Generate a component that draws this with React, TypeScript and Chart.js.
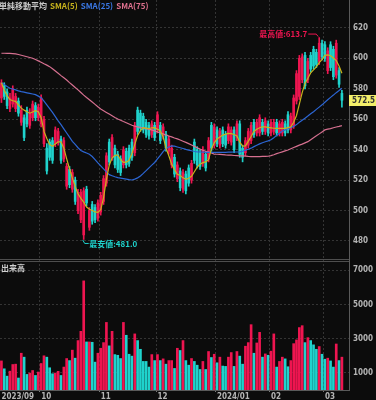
import React, { useEffect, useRef } from 'react';
import { Chart, registerables } from 'chart.js';

Chart.register(...registerables);

const dates = [
  '2023/09/11','2023/09/12','2023/09/13','2023/09/14','2023/09/15','2023/09/19','2023/09/20','2023/09/21','2023/09/22','2023/09/25','2023/09/26','2023/09/27','2023/09/28','2023/09/29',
  '2023/10/02','2023/10/03','2023/10/04','2023/10/05','2023/10/06','2023/10/10','2023/10/11','2023/10/12','2023/10/13','2023/10/16','2023/10/17','2023/10/18','2023/10/19','2023/10/20','2023/10/23','2023/10/24','2023/10/25','2023/10/26','2023/10/27','2023/10/30','2023/10/31',
  '2023/11/01','2023/11/02','2023/11/06','2023/11/07','2023/11/08','2023/11/09','2023/11/10','2023/11/13','2023/11/14','2023/11/15','2023/11/16','2023/11/17','2023/11/20','2023/11/21','2023/11/22','2023/11/24','2023/11/27','2023/11/28','2023/11/29','2023/11/30',
  '2023/12/01','2023/12/04','2023/12/05','2023/12/06','2023/12/07','2023/12/08','2023/12/11','2023/12/12','2023/12/13','2023/12/14','2023/12/15','2023/12/18','2023/12/19','2023/12/20','2023/12/21','2023/12/22','2023/12/25','2023/12/26','2023/12/27','2023/12/28','2023/12/29',
  '2024/01/04','2024/01/05','2024/01/09','2024/01/10','2024/01/11','2024/01/12','2024/01/15','2024/01/16','2024/01/17','2024/01/18','2024/01/19','2024/01/22','2024/01/23','2024/01/24','2024/01/25','2024/01/26','2024/01/29','2024/01/30','2024/01/31',
  '2024/02/01','2024/02/02','2024/02/05','2024/02/06','2024/02/07','2024/02/08','2024/02/09','2024/02/13','2024/02/14','2024/02/15','2024/02/16','2024/02/19','2024/02/20','2024/02/21','2024/02/22','2024/02/26','2024/02/27','2024/02/28','2024/02/29',
  '2024/03/01','2024/03/04','2024/03/05','2024/03/06','2024/03/07','2024/03/08','2024/03/11',
];

const monthTickLabels = ['2023/09', '10', '11', '12', '2024/01', '02', '03'];

const opens = [
  574,582,578,567,570,567,572,558,561,566, 556,561,569,561,557,544,541,545,546,544,
  545,547,534,516,527,514,520,500,494,484, 514,489,504,502,495,499,506,518,545,535,
  541,537,534,530,539,541,545,538,566,564, 562,558,556,550,556,553,556,549,550,539,
  530,535,521,526,514,524,528,520,545,540, 538,531,537,534,556,543,553,543,553,550,
  546,545,553,548,557,541,538,543,546,558, 551,551,558,552,557,551,552,558,551,551,
  557,563,553,556,572,575,586,602,586,602, 606,604,598,610,609,592,609,606,589,592,
  577,
];
const highs = [
  586,584,580,577,582,577,574,569,563,568, 567,572,571,570,576,562,544,547,548,555,
  554,549,548,531,529,527,522,514,514,515, 516,502,506,504,507,512,523,538,547,550,
  543,539,536,542,541,543,547,558,568,566, 564,560,558,559,558,565,558,557,552,549,
  543,537,532,528,527,526,530,533,547,542, 540,542,539,548,558,557,555,554,555,552,
  557,555,555,559,559,543,548,554,558,560, 560,563,560,561,559,560,560,560,559,560,
  559,565,564,576,592,602,603,604,600,604, 608,606,613.7,612,611,607,611,608,612,594,
  579,
];
const lows = [
  571,573,567,565,568,565,562,556,546,555, 554,559,559,559,555,542,524,533,531,542,
  543,531,532,514,515,512,504,498,492,481, 503,487,491,492,493,497,504,516,530,533,
  528,525,523,528,528,529,533,536,550,552, 551,548,547,548,546,551,544,547,539,537,
  528,522,519,513,512,511,516,518,531,528, 527,529,526,532,539,541,542,541,542,541,
  544,543,538,546,535,532,536,541,544,548, 549,549,550,550,549,549,550,549,549,549,
  549,551,551,554,570,573,584,580,584,591, 593,594,596,599,598,590,592,586,587,581,
  568,
];
const closes = [
  584,575,569,574,580,575,564,566,548,557, 564,570,561,568,574,560,526,535,533,553,
  552,533,546,529,517,525,506,512,512,513, 505,500,493,494,505,510,521,536,532,548,
  530,527,525,540,530,531,535,556,552,554, 553,550,549,557,548,563,546,555,541,547,
  541,524,530,515,525,513,518,531,533,530, 529,540,528,546,541,555,544,552,544,543,
  555,553,540,557,537,535,546,552,556,550, 558,561,552,559,551,558,558,551,557,558,
  551,553,562,574,590,600,601,582,598,593, 595,596,610,601,600,605,594,588,610,583,
  572.5,
];

const volumes = [
  1700,1240,810,1100,1490,1510,700,2150,1920,910, 990,1140,850,1050,1550,2000,1920,1300,950,990,
  1090,850,1340,1840,1720,2330,1860,2890,3430,6380, 2810,2810,2790,1630,2150,2440,2770,3950,2580,3430,
  2070,2030,1840,3950,3200,2090,1980,3280,2890,2380, 1670,1670,1340,2070,1720,2070,1720,1820,1510,1720,
  1720,1260,2440,2310,2890,1720,1450,1840,1670,1450, 1200,1670,1200,2250,1900,2090,1590,1920,1400,1380,
  1920,2190,1380,2250,1980,1510,2560,2770,3820,2150, 2750,3370,1920,2110,2030,2270,3280,1340,1670,1920,
  1820,1360,1720,2710,2930,3650,3760,2770,3060,2890, 2640,2380,2540,2090,1800,1860,1700,1340,2690,1720,
  1920,
];
// R = red bar, C = cyan bar
const volumeColorKeys = (
  'RCCRRRCRCC' + 'RRCRRRCCCR' + 'RCRRCRCRRR' + 'CRCCRRRRCR' + 'CCCRCCCRCC' + 'CCCRCRCRCR' +
  'RCRCRCCRCC' + 'CRCRCRCRCC' + 'RRCRCCRRRC' + 'RRCRCRRCRR' + 'CCRRRRRCRC' + 'CCRCCRCCRC' + 'R'
).split('');

const sma5 = [
  584,579,575.5,573,572.2,571.8,569.5,567.3,566,565, 564,564.8,565.7,565,561,552,547.3,543.4,542.3,543.8,
  545.2,545.2,541,534,527.5,521.5,515.8,511,508,505.5, 502.3,500.8,500,499.1,498.8,500.5,508.5,520.5,529.8,534.5,
  536.3,536.5,533.5,531.7,531.8,533,537.5,543.5,549.3,552.5, 554.5,554.2,553.8,554.4,554.5,553.5,552.3,548.5,541,536,
  530.5,527,523.8,523,521.5,520.5,521.2,522.5,525.5,528.5, 530.5,531.5,532,533.5,540.5,544.5,547,548.3,549.6,550.2,
  550.7,550.6,550,549,545,542.4,542.5,545.5,548.7,552, 553.5,554.4,555,555,554.7,554.4,554.1,554,554,554,
  554,554.5,555,558,562.5,570,577.5,583.5,587,590.5, 592.5,594.4,597.2,599.2,602,602.3,601.8,600.3,598.6,595,
  590.3,
];
const sma25 = [
  584,582.8,581.6,580.4,579.9,579.3,578.7,578.2,577.8,577.4, 577,576.6,576.2,575.2,574.2,572,569.5,567,564.5,561.7,
  559,556.5,553.7,551,548.3,545.5,543.5,541.3,539.5,538.6, 537.8,537,535.5,533.5,531.4,529.4,527.4,525.4,523.6,522.9,
  522.2,521.6,521.3,521,520.7,520.3,520.1,520.7,521.5,522.7, 524.4,526.2,528.1,529.9,531.6,534,536.3,538.8,540.7,541.8,
  542.5,542.3,541.8,541.3,540.8,540.2,539.7,539.3,538.8,538.6, 538.5,538.4,538.3,538.3,538.3,538.3,538.3,538.3,538.3,538.3,
  538.4,538.4,538.5,538.5,538.6,539,539.7,540.3,541,542, 542.9,543.8,544.6,545.2,545.8,546.5,547.9,549.4,550.8,552.3,
  553,553.8,554.5,555.3,556.5,558,559.3,560.7,562.1,563.6, 565,566.5,568,569.5,571.2,572.8,574.4,575.9,577.5,578.9,
  580.4,
];
const sma75 = [
  603.4,603.4,603.3,603.3,603.2,603,602.6,602.1,601.6,601.1, 600.6,600.1,599.3,598.4,597.5,596.5,595.6,594.6,593.2,591.7,
  590.2,588.7,587.3,585.8,584.1,582.5,580.9,579.3,577.6,575.9, 574.3,572.8,571.3,569.8,568.2,566.7,565.6,564.5,563.4,562.3,
  561.2,560.2,559.4,558.5,557.7,556.9,556.1,555.4,555,554.6, 554.2,553.8,553.4,553,552.4,551.7,551,550.4,549.7,549,
  548.4,547.7,547.1,546.4,545.6,544.8,544,543.1,542.2,541.3, 540.4,539.6,539,538.4,537.8,537.1,537,536.9,536.8,536.6,
  536.5,536.4,536.2,536.1,536,535.9,535.8,535.6,535.5,535.4, 535.4,535.5,535.6,535.6,535.7,536.1,536.7,537.4,538,538.6,
  539.2,539.8,540.6,541.4,542.2,543,543.7,544.5,545.3,546.6, 547.9,549.1,550.4,551.7,553,553.5,553.9,554.4,554.9,555.3,
  555.8,
];

const priceTicks = [480, 500, 520, 540, 560, 580, 600, 620];
const volumeTicks = [1000, 2000, 3000, 4000, 5000, 6000, 7000];
const headerTitle = '単純移動平均';
const legendLabels = ['SMA(5)', 'SMA(25)', 'SMA(75)'];
const volumeTitle = '出来高';
const highLabel = '最高値:';
const lowLabel = '最安値:';

const BG = '#0c0c0c';
const RED = '#ee1550';
const CYAN = '#1fd3cd';
const C_SMA5 = '#c8b41c';
const C_SMA25 = '#2c66d4';
const C_SMA75 = '#d67090';
const GRID = '#343434';
const AXIS = '#5a5a5a';
const TICK_TEXT = '#b4b4b4';
const NARROW = "'Liberation Sans Narrow', 'DejaVu Sans Condensed', 'Roboto', sans-serif";
const CJK = "'Noto Sans CJK JP', 'Noto Sans', sans-serif";

const padLabels = [' ', '  '];
const xLabels = [...dates, ...padLabels];
const monthStarts = dates
  .map((d, i) => (i === 0 || d.slice(0, 7) !== dates[i - 1].slice(0, 7) ? i : -1))
  .filter((i) => i >= 0);

const candleColors = closes.map((c, i) => (c >= opens[i] ? RED : CYAN));
const volColors = volumeColorKeys.map((k) => (k === 'R' ? RED : CYAN));

const tickFont = { family: NARROW, size: 8, weight: 'bold' as const };

const overlay = {
  id: 'overlay',
  beforeDraw(chart: any) {
    const { ctx, width, height } = chart;
    ctx.save();
    ctx.fillStyle = BG;
    ctx.fillRect(0, 0, width, height);
    ctx.restore();
  },
  afterDraw(chart: any) {
    const { ctx, chartArea: area, scales } = chart;
    const xs = scales.x;
    const ys = scales.y;
    const yv = scales.yv;
    ctx.save();

    // pane separator (double line)
    const sy = Math.round(yv.top);
    ctx.strokeStyle = '#4e4e4e';
    ctx.lineWidth = 1;
    ctx.beginPath();
    ctx.moveTo(area.left, sy - 0.5);
    ctx.lineTo(area.right, sy - 0.5);
    ctx.moveTo(area.left, sy + 1.5);
    ctx.lineTo(area.right, sy + 1.5);
    ctx.stroke();

    // header
    ctx.font = `bold 8px ${CJK}`;
    ctx.textBaseline = 'middle';
    ctx.textAlign = 'left';
    let hx = -1;
    const hy = 5.5;
    const items: [string, string][] = [
      [headerTitle, '#c8c8c8'],
      [legendLabels[0], C_SMA5],
      [legendLabels[1], '#3a78e6'],
      [legendLabels[2], '#e0718f'],
    ];
    for (const [t, col] of items) {
      ctx.fillStyle = col;
      ctx.fillText(t, hx, hy);
      hx += ctx.measureText(t).width + 3;
    }

    // volume title
    ctx.fillStyle = '#d0d0d0';
    ctx.fillText(volumeTitle, 1, yv.top + 7.5);

    // highest
    let hi = 0;
    highs.forEach((v, i) => { if (v > highs[hi]) hi = i; });
    const px = xs.getPixelForValue(hi);
    const py = ys.getPixelForValue(highs[hi]);
    ctx.strokeStyle = RED;
    ctx.fillStyle = RED;
    ctx.beginPath();
    ctx.moveTo(px - 11, py - 3.5);
    ctx.lineTo(px - 3, py - 3.5);
    ctx.lineTo(px - 1, py - 1);
    ctx.stroke();
    ctx.textAlign = 'right';
    ctx.fillText(highLabel + highs[hi].toFixed(1), px - 12, py - 3.5);

    // lowest
    let lo = 0;
    lows.forEach((v, i) => { if (v < lows[lo]) lo = i; });
    const lx = xs.getPixelForValue(lo);
    const ly = ys.getPixelForValue(lows[lo]);
    ctx.strokeStyle = CYAN;
    ctx.fillStyle = CYAN;
    ctx.beginPath();
    ctx.moveTo(lx - 1, ly + 0.5);
    ctx.lineTo(lx + 1, ly + 4);
    ctx.lineTo(lx + 5, ly + 4);
    ctx.stroke();
    ctx.textAlign = 'left';
    ctx.fillText(lowLabel + lows[lo].toFixed(1), lx + 5.5, ly + 4);

    // last price box
    const last = closes[closes.length - 1];
    const ly2 = ys.getPixelForValue(last);
    ctx.fillStyle = '#f3ef6a';
    ctx.fillRect(area.right, Math.round(ly2) - 5, chart.width - area.right, 11);
    ctx.fillStyle = '#333333';
    ctx.font = `bold 8px ${NARROW}`;
    ctx.textAlign = 'center';
    ctx.fillText(last.toFixed(1), (area.right + chart.width) / 2 + 1, Math.round(ly2) + 0.5);

    ctx.restore();
  },
};

export default function App() {
  const ref = useRef<HTMLCanvasElement | null>(null);

  useEffect(() => {
    const canvas = ref.current;
    if (!canvas) return;
    const chart = new Chart(canvas, {
      type: 'bar',
      data: {
        labels: xLabels,
        datasets: [
          {
            type: 'line',
            data: sma5,
            borderColor: C_SMA5,
            borderWidth: 1.2,
            pointRadius: 0,
            yAxisID: 'y',
            order: 0,
          } as any,
          {
            type: 'line',
            data: sma25,
            borderColor: C_SMA25,
            borderWidth: 1.2,
            pointRadius: 0,
            yAxisID: 'y',
            order: 0,
          } as any,
          {
            type: 'line',
            data: sma75,
            borderColor: C_SMA75,
            borderWidth: 1.2,
            pointRadius: 0,
            yAxisID: 'y',
            order: 0,
          } as any,
          {
            type: 'bar',
            data: lows.map((l, i) => [l, highs[i]]),
            backgroundColor: candleColors,
            barThickness: 1,
            grouped: false,
            yAxisID: 'y',
            order: 3,
          } as any,
          {
            type: 'bar',
            data: opens.map((o, i) => [o, closes[i]]),
            backgroundColor: candleColors,
            barThickness: 2,
            minBarLength: 1,
            grouped: false,
            yAxisID: 'y',
            order: 2,
          } as any,
          {
            type: 'bar',
            data: volumes,
            backgroundColor: volColors,
            barThickness: 2,
            grouped: false,
            yAxisID: 'yv',
            order: 4,
          } as any,
        ],
      },
      options: {
        responsive: false,
        animation: false,
        devicePixelRatio: 1,
        events: [],
        layout: { padding: 0 },
        plugins: { legend: { display: false }, tooltip: { enabled: false } },
        scales: {
          x: {
            type: 'category',
            offset: true,
            grid: {
              offset: true,
              color: (c: any) => (c.index > 0 && monthStarts.includes(c.index) ? GRID : 'rgba(0,0,0,0)'),
              drawTicks: true,
              tickLength: 2,
              tickColor: (c: any) => (c.index > 0 && monthStarts.includes(c.index) ? '#777' : 'rgba(0,0,0,0)'),
            },
            border: { display: true, color: AXIS, dash: [2, 2] },
            ticks: {
              autoSkip: false,
              maxRotation: 0,
              minRotation: 0,
              align: 'start',
              padding: 0,
              color: TICK_TEXT,
              font: tickFont,
              callback: (_v: any, i: number) => {
                const m = monthStarts.indexOf(i);
                return m >= 0 ? monthTickLabels[m] : '';
              },
            },
            afterFit: (s: any) => {
              s.height = 10;
              s.paddingLeft = 0;
              s.paddingRight = 0;
            },
          },
          y: {
            type: 'linear',
            position: 'right',
            stack: 'panes',
            stackWeight: 2,
            min: 467.5,
            max: 638.4,
            afterBuildTicks: (s: any) => {
              s.ticks = priceTicks.map((v) => ({ value: v }));
            },
            grid: { color: GRID, drawTicks: false },
            border: { display: true, color: AXIS, dash: [2, 2] },
            ticks: { padding: 4, color: TICK_TEXT, font: tickFont, callback: (v: any) => String(v) },
            afterFit: (s: any) => {
              s.width = 27;
              s.paddingTop = 0;
              s.paddingBottom = 0;
            },
          },
          yv: {
            type: 'linear',
            position: 'right',
            stack: 'panes',
            stackWeight: 1,
            min: 0,
            max: 7600,
            afterBuildTicks: (s: any) => {
              s.ticks = volumeTicks.map((v) => ({ value: v }));
            },
            grid: { color: GRID, drawTicks: false },
            border: { display: true, color: AXIS, dash: [2, 2] },
            ticks: { padding: 4, color: TICK_TEXT, font: tickFont, callback: (v: any) => String(v) },
            afterFit: (s: any) => {
              s.width = 27;
              s.paddingTop = 0;
              s.paddingBottom = 0;
            },
          },
        },
      } as any,
      plugins: [overlay],
    });
    return () => chart.destroy();
  }, []);

  return (
    <div style={{ position: 'fixed', left: 0, top: 0, width: 376, height: 400, background: BG }}>
      <canvas ref={ref} width={376} height={400} style={{ display: 'block', width: 376, height: 400 }} />
    </div>
  );
}
